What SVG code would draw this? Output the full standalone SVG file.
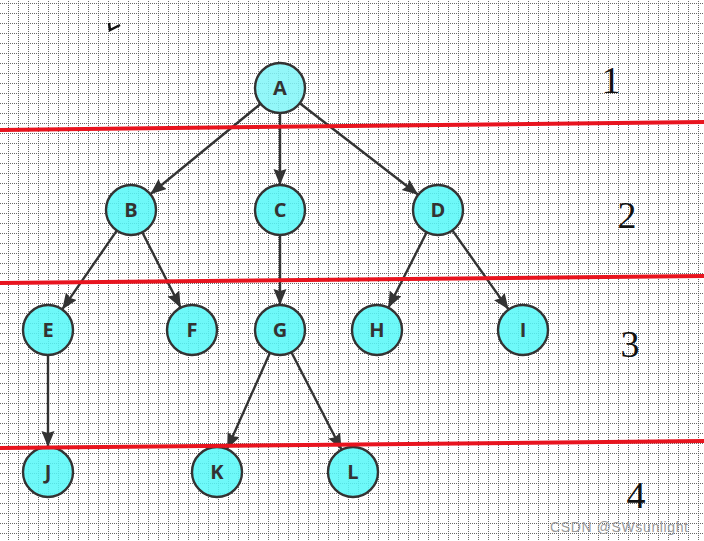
<svg xmlns="http://www.w3.org/2000/svg" width="704" height="541" viewBox="0 0 704 541">
<defs>
<pattern id="grid" patternUnits="userSpaceOnUse" x="8" y="3" width="10" height="10">
<path d="M0.5 0V10" stroke="#666" stroke-width="1" stroke-dasharray="1 1" fill="none"/>
<path d="M0 0.5H10" stroke="#666" stroke-width="1" stroke-dasharray="1 1" fill="none"/>
</pattern>
<marker id="arr" markerUnits="userSpaceOnUse" markerWidth="18" markerHeight="14" refX="16" refY="6.5" orient="auto">
<path d="M0,0 L16,6.5 L0,13 L2,6.5 z" fill="#333"/>
</marker>
</defs>
<style>
.node circle{fill:#55f8f8;fill-opacity:0.85;stroke:#333;stroke-width:2.4}
.node text{font-family:"Open Sans","Liberation Sans",sans-serif;font-weight:bold;font-size:20px;fill:#333;text-anchor:middle}
.edge{stroke:#333;stroke-width:2.4;fill:none;marker-end:url(#arr)}
.red{stroke:#e8141e;stroke-width:4;fill:none}
.num{font-family:"Liberation Serif","DejaVu Serif",serif;font-size:38px;fill:#111;text-anchor:middle}
</style>
<rect width="704" height="541" fill="#fff"/>
<rect width="704" height="541" fill="url(#grid)"/>
<path d="M109 23 L110 30 L120 25" stroke="#111" stroke-width="2.5" fill="none"/>
<g id="connectors">
<line class="edge" x1="260.7" y1="103.8" x2="150.3" y2="194.2"/>
<line class="edge" x1="280" y1="113" x2="280" y2="185"/>
<line class="edge" x1="299.8" y1="103.3" x2="418.2" y2="194.7"/>
<line class="edge" x1="116.8" y1="230.6" x2="62.2" y2="309.4"/>
<line class="edge" x1="142.3" y1="232.3" x2="180.7" y2="307.7"/>
<line class="edge" x1="280" y1="235" x2="280" y2="305"/>
<line class="edge" x1="426.7" y1="232.3" x2="388.3" y2="307.7"/>
<line class="edge" x1="452.4" y1="230.4" x2="508.6" y2="309.6"/>
<line class="edge" x1="48" y1="355" x2="48" y2="447"/>
<line class="edge" x1="269.9" y1="352.9" x2="227.1" y2="449.1"/>
<line class="edge" x1="291.4" y1="352.3" x2="341.6" y2="449.7"/>
</g>
<g id="A" class="node"><circle cx="280" cy="88" r="25" style="fill:#80f6f8"/><text x="280" y="95">A</text></g>
<g id="B" class="node"><circle cx="131" cy="210" r="25"/><text x="131" y="217">B</text></g>
<g id="C" class="node"><circle cx="280" cy="210" r="25"/><text x="280" y="217">C</text></g>
<g id="D" class="node"><circle cx="438" cy="210" r="25"/><text x="438" y="217">D</text></g>
<g id="E" class="node"><circle cx="48" cy="330" r="25"/><text x="48" y="337">E</text></g>
<g id="F" class="node"><circle cx="192" cy="330" r="25"/><text x="192" y="337">F</text></g>
<g id="G" class="node"><circle cx="280" cy="330" r="25"/><text x="280" y="337">G</text></g>
<g id="H" class="node"><circle cx="377" cy="330" r="25"/><text x="377" y="337">H</text></g>
<g id="I" class="node"><circle cx="523" cy="330" r="25"/><text x="523" y="337">I</text></g>
<g id="J" class="node"><circle cx="48" cy="472" r="25"/><text x="48" y="479">J</text></g>
<g id="K" class="node"><circle cx="217" cy="472" r="25"/><text x="217" y="479">K</text></g>
<g id="L" class="node"><circle cx="353" cy="472" r="25"/><text x="353" y="479">L</text></g>
<line class="red" x1="0" y1="130" x2="704" y2="122"/>
<line class="red" x1="0" y1="283" x2="704" y2="276"/>
<line class="red" x1="0" y1="448" x2="704" y2="441"/>
<text class="num" x="611" y="93">1</text>
<text class="num" x="627" y="228">2</text>
<text class="num" x="630" y="357">3</text>
<text class="num" x="636" y="508">4</text>
<text x="550" y="532" font-family="Liberation Sans,Arial,sans-serif" font-size="14" fill="#999" textLength="138">CSDN @SWsunlight</text>
</svg>
